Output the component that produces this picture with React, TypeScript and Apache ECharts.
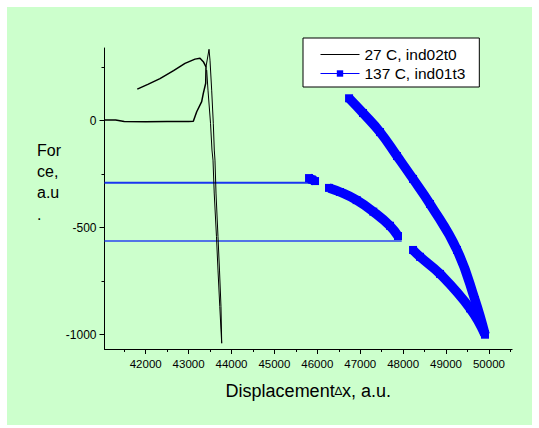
import React, { useEffect, useRef } from "react";
import * as echarts from "echarts";

const FONT = "'Liberation Sans', Arial, Helvetica, sans-serif";

const NAME_27 = "27 C, ind02t0";
const NAME_137 = "137 C, ind01t3";

const X_MIN = 41040;
const X_MAX = 50540;
const Y_MIN = -1067;
const Y_MAX = 340;

const xTickLabels = [42000, 43000, 44000, 45000, 46000, 47000, 48000, 49000, 50000];
const xMinorTicks = [41500, 42500, 43500, 44500, 45500, 46500, 47500, 48500, 49500, 50500];
const yTickLabels = [-1000, -500, 0];
const yMinorTicks = [-750, -250, 250];

// 27 C: baseline, rise and upper branch (thicker trace)
const black27Loop: number[][] = [
  [41804, 148], [42050, 170], [42333, 197], [42650, 234], [42916, 268],
  [43149, 288], [43266, 292], [43343, 276], [43406, 252], [43399, 175],
  [43343, 128], [43305, 89], [43189, 42], [43110, -2], [43000, -4],
  [42500, -4], [42000, -5], [41500, -4], [41300, 3], [41040, 3],
];

// 27 C: steep loading / unloading spike (thin doubled trace)
const black27Spike: number[][] = [
  [43406, 252], [43476, 334], [43499, 283], [43538, 143], [43576, -12],
  [43599, -137], [43615, -184], [43639, -338], [43685, -542], [43720, -698],
  [43755, -869], [43772, -1040], [43755, -978], [43727, -869], [43685, -698],
  [43650, -542], [43597, -338], [43569, -184], [43545, -137], [43511, -12],
  [43452, 143], [43422, 237],
];

// 137 C segments
const blue137SegA: number[][] = [[45807, -268], [45877, -275], [45947, -282]];
const blue137SegB: number[][] = [
  [46273, -314], [46529, -333], [46918, -371], [47305, -425], [47694, -491], [47881, -539],
];
const blue137SegC: number[][] = [
  [48231, -604], [48394, -636], [48860, -716], [49559, -877], [49909, -999],
];
const blue137SegD: number[][] = [
  [49909, -999], [49676, -838], [49256, -604], [48627, -389], [48231, -272],
  [47858, -165], [47462, -53], [47065, 36], [46740, 105],
];
const blue137Plateau1: number[][] = [[41040, -290], [45970, -290]];
const blue137Plateau2: number[][] = [[41040, -562], [47967, -562]];

const BLUE = "#0000ff";

function bandSeries(data: number[][]) {
  return {
    type: "line",
    name: NAME_137,
    data,
    smooth: 0.45,
    symbol: "rect",
    symbolSize: 8,
    showAllSymbol: true,
    itemStyle: { color: BLUE },
    lineStyle: { color: BLUE, width: 9.5, join: "round", cap: "butt" },
    z: 4,
  };
}

export default function App() {
  const ref = useRef<HTMLDivElement>(null);

  useEffect(() => {
    if (!ref.current) return;
    const chart = echarts.init(ref.current, null, { renderer: "svg" });
    const axisLineStyle = { color: "#000", width: 1 };
    const option: any = {
      animation: false,
      backgroundColor: "#ffffff",
      textStyle: { fontFamily: FONT, color: "#000" },
      graphic: [
        {
          type: "rect",
          left: 7,
          top: 7,
          shape: { width: 525, height: 418 },
          style: { fill: "#ccffcc" },
          z: -100,
          silent: true,
        },
        {
          type: "text",
          left: 37,
          top: 139.5,
          style: {
            text: "For\nce,\na.u\n.",
            fontSize: 16,
            lineHeight: 21.3,
            fontFamily: FONT,
            fill: "#000",
          },
          z: 10,
        },
      ],
      grid: {
        left: 104.5,
        right: 26.9,
        top: 48,
        bottom: 79,
        containLabel: false,
        outerBoundsMode: "none",
      },
      legend: {
        orient: "vertical",
        left: 303,
        top: 38,
        padding: [8, 14, 5, 17],
        itemWidth: 39,
        itemHeight: 8,
        itemGap: 2,
        backgroundColor: "#ffffff",
        borderColor: "#000",
        borderWidth: 1,
        borderRadius: 0,
        selectedMode: false,
        textStyle: { fontSize: 15.5, color: "#000", fontFamily: FONT, lineHeight: 17 },
        data: [
          {
            name: NAME_27,
            lineStyle: { width: 1, color: "#000" },
            itemStyle: { opacity: 0, color: "rgba(0,0,0,0)", borderWidth: 0 },
          },
          {
            name: NAME_137,
            lineStyle: { width: 1, color: BLUE },
            itemStyle: { color: BLUE, borderWidth: 0 },
          },
        ],
      },
      xAxis: [
        {
          type: "value",
          min: X_MIN,
          max: X_MAX,
          position: "bottom",
          name: "Displacement{d|\u2206}x, a.u.",
          nameLocation: "middle",
          nameGap: 33,
          nameTextStyle: {
            fontSize: 18,
            color: "#000",
            fontFamily: FONT,
            rich: { d: { fontSize: 12, color: "#000", fontFamily: FONT } },
          },
          axisLine: { show: true, onZero: false, lineStyle: axisLineStyle },
          axisTick: { show: true, length: 5, customValues: xTickLabels, lineStyle: axisLineStyle },
          axisLabel: {
            show: true,
            customValues: xTickLabels,
            fontSize: 11.5,
            color: "#000",
            fontFamily: FONT,
            margin: 9,
            formatter: (v: number) => String(v),
          },
          splitLine: { show: false },
        },
        {
          type: "value",
          min: X_MIN,
          max: X_MAX,
          position: "bottom",
          axisLine: { show: false, onZero: false },
          axisTick: { show: true, length: 3, customValues: xMinorTicks, lineStyle: axisLineStyle },
          axisLabel: { show: false },
          splitLine: { show: false },
        },
      ],
      yAxis: [
        {
          type: "value",
          min: Y_MIN,
          max: Y_MAX,
          position: "left",
          axisLine: { show: true, onZero: false, lineStyle: axisLineStyle },
          axisTick: { show: true, length: 5, customValues: yTickLabels, lineStyle: axisLineStyle },
          axisLabel: {
            show: true,
            customValues: yTickLabels,
            fontSize: 12,
            color: "#000",
            fontFamily: FONT,
            margin: 8,
            formatter: (v: number) => String(v),
          },
          splitLine: { show: false },
        },
        {
          type: "value",
          min: Y_MIN,
          max: Y_MAX,
          position: "left",
          axisLine: { show: false, onZero: false },
          axisTick: { show: true, length: 3, customValues: yMinorTicks, lineStyle: axisLineStyle },
          axisLabel: { show: false },
          splitLine: { show: false },
        },
      ],
      series: [
        {
          type: "line",
          name: NAME_27,
          data: black27Loop,
          symbol: "none",
          lineStyle: { color: "#000", width: 1.5 },
          itemStyle: { color: "#000" },
          z: 3,
        },
        {
          type: "line",
          name: NAME_27,
          data: black27Spike,
          symbol: "none",
          lineStyle: { color: "#000", width: 1 },
          itemStyle: { color: "#000" },
          z: 3,
        },
        bandSeries(blue137SegA),
        bandSeries(blue137SegB),
        bandSeries(blue137SegC),
        bandSeries(blue137SegD),
        {
          type: "line",
          name: NAME_137,
          data: blue137Plateau1,
          symbol: "none",
          lineStyle: { color: "#1a35f0", width: 2 },
          itemStyle: { color: BLUE },
          z: 2,
        },
        {
          type: "line",
          name: NAME_137,
          data: blue137Plateau2,
          symbol: "none",
          lineStyle: { color: "#2a45f0", width: 1.5 },
          itemStyle: { color: BLUE },
          z: 2,
        },
      ],
    };
    chart.setOption(option);
    return () => chart.dispose();
  }, []);

  return (
    <div
      ref={ref}
      style={{ position: "fixed", left: 0, top: 0, width: 539, height: 428 }}
    />
  );
}
